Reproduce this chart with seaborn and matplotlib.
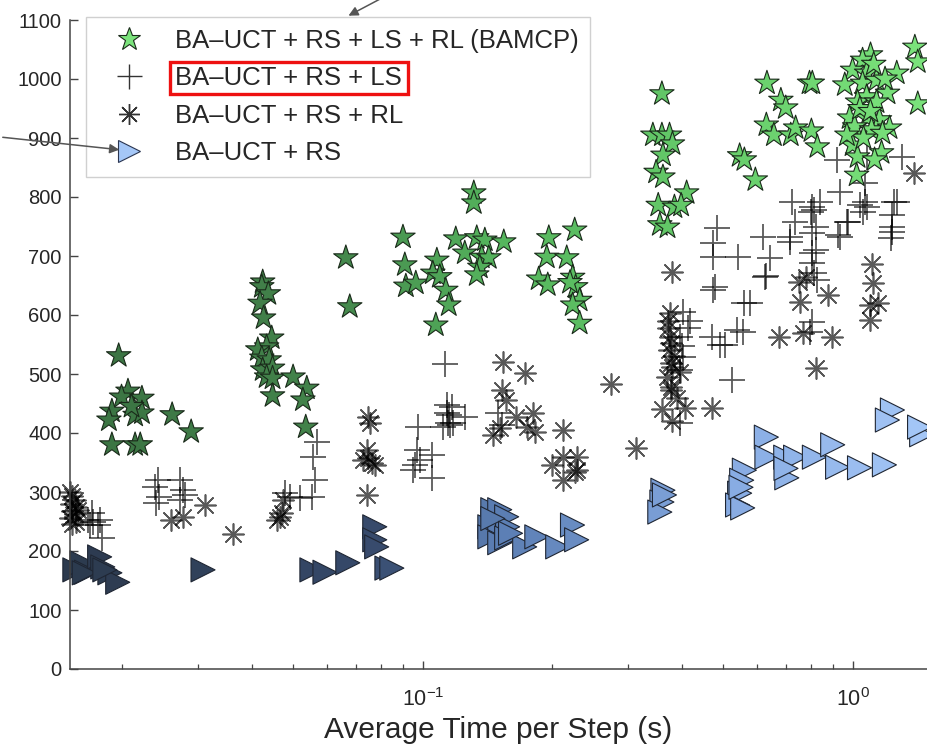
import matplotlib
matplotlib.use("Agg")
import matplotlib.pyplot as plt
import numpy as np
import pandas as pd
import seaborn as sns
from matplotlib.colors import LinearSegmentedColormap
from matplotlib.lines import Line2D
from matplotlib.patches import Rectangle

# BA-UCT + RS + LS + RL (BAMCP)
bamcp_time = [0.0196, 0.0206, 0.0199, 0.0222, 0.0189, 0.0186, 0.0214, 0.0222, 0.0210, 0.0261, 0.0289,
              0.0189, 0.0214, 0.0220,
              0.0424, 0.0422, 0.0437, 0.0418, 0.0426, 0.0445, 0.0433, 0.0413, 0.0422, 0.0439, 0.0424,
              0.0447, 0.0433, 0.0447, 0.0447, 0.0499, 0.0537, 0.0526, 0.0534, 0.0662, 0.0676,
              0.0899, 0.0908, 0.0913, 0.0963, 0.1314, 0.1314, 0.1193, 0.1078, 0.1055, 0.1095, 0.1131,
              0.1149, 0.1072, 0.1252, 0.1335, 0.1394, 0.1543, 0.1371, 0.1424, 0.1357, 0.1335,
              0.1964, 0.1943, 0.1860, 0.1953, 0.2162, 0.2256, 0.2232, 0.2268, 0.2317, 0.2232, 0.2317, 0.2200,
              0.360, 0.343, 0.360, 0.375, 0.381, 0.362, 0.349, 0.362, 0.411, 0.353, 0.385, 0.399, 0.356, 0.371,
              0.546, 0.560, 0.594, 0.632, 0.794, 0.681, 0.699, 0.630, 0.656, 0.718, 0.737, 0.802, 0.828, 0.806,
              1.396, 1.418, 1.267, 1.101, 1.055, 1.000, 0.959, 1.078, 1.055, 1.137, 1.206, 1.078, 1.027,
              1.137, 1.418, 0.984, 1.083, 1.155, 1.011, 1.219, 1.107, 1.174, 1.000, 1.168, 1.027, 1.125,
              1.022, 1.040, 1.100, 1.060, 0.970, 1.190, 1.120]
bamcp_value = [531, 471, 461, 459, 437, 422, 430, 434, 445, 431, 402,
               380, 380, 380,
               656, 648, 636, 620, 595, 561, 546, 541, 527, 524, 507,
               510, 495, 493, 463, 495, 476, 456, 410, 697, 614,
               732, 685, 649, 654, 807, 790, 729, 693, 671, 665, 642,
               617, 583, 705, 731, 727, 724, 698, 697, 681, 668,
               731, 698, 661, 651, 697, 744, 664, 648, 625, 617, 586, 655,
               975, 905, 905, 905, 890, 871, 842, 834, 807, 786, 783, 786, 753, 749,
               870, 863, 829, 993, 993, 964, 951, 922, 905, 905, 917, 912, 885, 993,
               1054, 1029, 1010, 1041, 1032, 1015, 990, 1010, 993, 998, 976, 970, 961,
               961, 958, 934, 934, 931, 919, 917, 914, 908, 888, 875, 868, 863,
               837, 950, 945, 900, 905, 1000, 1025]

# BA-UCT + RS + LS
ls_time = [0.0170, 0.0168, 0.0177, 0.0179, 0.0166, 0.0175, 0.0171,
           0.0242, 0.0243, 0.0240, 0.0238, 0.0272, 0.0277, 0.0280, 0.0272,
           0.0478, 0.0491, 0.0518, 0.0552, 0.0561, 0.0555, 0.0566,
           0.0973, 0.0968, 0.0958, 0.0948, 0.0984, 0.1049, 0.1049, 0.1137, 0.1137, 0.1167, 0.1143,
           0.1173, 0.1252, 0.1113, 0.1125, 0.1155, 0.1149, 0.1494, 0.1527,
           0.403, 0.415, 0.396, 0.403, 0.396, 0.396, 0.418, 0.400,
           0.473, 0.540, 0.473, 0.560, 0.470, 0.491, 0.504, 0.538, 0.555, 0.523,
           0.483, 0.473, 0.618, 0.641, 0.624, 0.714, 0.722, 0.734, 0.802, 0.806, 0.838, 0.933,
           0.919, 1.066, 1.066, 1.078, 1.083, 1.302, 1.267, 1.232, 1.238, 1.232, 1.226, 0.806,
           0.824, 0.806, 0.815, 0.828, 0.824, 0.972, 0.923, 0.714, 0.630, 0.576, 0.478, 1.251,
           1.038, 1.055, 0.815, 0.977, 0.933, 0.794, 0.806, 0.806]
ls_value = [264, 244, 253, 222, 253, 244, 249,
            320, 292, 281, 309, 320, 303, 295, 286,
            298, 292, 290, 292, 320, 359, 385,
            410, 371, 346, 337, 354, 363, 324, 448, 434, 444, 417,
            417, 427, 410, 517, 413, 430, 434, 413,
            605, 578, 563, 529, 507, 417, 590, 548,
            698, 698, 642, 620, 563, 549, 549, 575, 571, 490,
            748, 722, 732, 697, 664, 724, 792, 758, 775, 783, 792, 809,
            863, 824, 792, 783, 868, 868, 792, 770, 750, 740, 730, 739,
            710, 688, 671, 659, 749, 758, 736, 732, 666, 620, 647, 792,
            786, 775, 778, 758, 732, 571, 588, 705]

# BA-UCT + RS + RL
rl_time = [0.0151, 0.0153, 0.0155, 0.0152, 0.0156, 0.0153, 0.0155, 0.0151, 0.0156, 0.0153, 0.0158,
           0.0259, 0.0277, 0.0311, 0.0361,
           0.0458, 0.0471, 0.0473, 0.0465,
           0.0745, 0.0753, 0.0741, 0.0745, 0.0761, 0.0773, 0.0725, 0.0741,
           0.1535, 0.1726, 0.1527, 0.1559, 0.1650, 0.1800, 0.1820, 0.1510, 0.1455, 0.2115, 0.1744,
           0.200, 0.2115, 0.228, 0.228, 0.2115, 0.2256,
           0.274, 0.313,
           0.381, 0.375, 0.371, 0.375, 0.379, 0.373, 0.379, 0.381, 0.396, 0.379, 0.379, 0.360,
           0.408, 0.381, 0.470, 0.372, 0.385, 0.370, 0.390,
           0.749, 0.781, 0.753, 0.875, 1.107, 1.113, 1.095, 1.143, 1.095, 1.389, 0.765, 0.676,
           0.894, 0.824]
rl_value = [300, 293, 287, 280, 275, 268, 262, 256, 250, 245, 270,
            253, 258, 278, 229,
            253, 264, 286, 258,
            427, 417, 371, 358, 349, 346, 354, 295,
            520, 502, 473, 456, 427, 434, 402, 408, 397, 405, 410,
            346, 359, 359, 337, 320, 334,
            483, 375,
            673, 603, 578, 563, 553, 541, 519, 512, 503, 478, 473, 441,
            442, 420, 442, 590, 530, 495, 460,
            656, 664, 622, 634, 686, 654, 617, 620, 592, 841, 570, 563,
            563, 510]

# BA-UCT + RS
rs_time = [0.0155, 0.0161, 0.0165, 0.0177, 0.0180, 0.0187, 0.0195, 0.0163, 0.0182, 0.0308,
           0.0552, 0.0592, 0.0669, 0.0825, 0.0847, 0.0773, 0.0773, 0.0781,
           0.1455, 0.151, 0.1567, 0.1432, 0.151, 0.1575, 0.1432, 0.151, 0.1567, 0.1726, 0.1842,
           0.206, 0.223, 0.228, 0.1455, 0.160,
           0.362, 0.360, 0.356, 0.365,
           0.560, 0.552, 0.546, 0.540, 0.555, 0.550,
           0.630, 0.632, 0.699, 0.703, 0.737, 0.815, 0.899, 0.923, 1.038, 1.186, 1.238, 1.205,
           1.448, 1.432, 0.700]
rs_value = [168, 180, 164, 190, 173, 163, 147, 163, 168, 168,
            168, 164, 180, 171, 171, 241, 219, 207,
            270, 270, 258, 241, 241, 241, 224, 214, 222, 207, 224,
            207, 244, 219, 255, 230,
            303, 283, 266, 295,
            337, 320, 298, 278, 273, 308,
            393, 359, 359, 324, 359, 359, 380, 342, 341, 346, 439, 422,
            397, 410, 340]

labels = ["BA–UCT + RS + LS + RL (BAMCP)", "BA–UCT + RS + LS", "BA–UCT + RS + RL", "BA–UCT + RS"]

sns.set_style("ticks")
plt.rcParams["font.family"] = ["Liberation Sans", "DejaVu Sans"]
plt.rcParams["mathtext.fontset"] = "custom"
plt.rcParams["mathtext.rm"] = "Liberation Sans"
plt.rcParams["mathtext.it"] = "Liberation Sans:italic"

bamcp = pd.DataFrame({"t": bamcp_time, "v": bamcp_value})
ls = pd.DataFrame({"t": ls_time, "v": ls_value})
rl = pd.DataFrame({"t": rl_time, "v": rl_value})
rs = pd.DataFrame({"t": rs_time, "v": rs_value})
bamcp["logt"] = np.log10(bamcp["t"])
rs["logt"] = np.log10(rs["t"])

star_cmap = LinearSegmentedColormap.from_list(
    "stars", [(0, "#3a7242"), (0.3, "#43844b"), (0.5, "#55b55d"), (0.75, "#66cc6a"), (1, "#7be37c")])
tri_cmap = LinearSegmentedColormap.from_list(
    "tri", [(0, "#2c3a4e"), (0.35, "#36496a"), (0.5, "#5a7db2"), (0.75, "#84a8e0"), (1, "#a5c7f7")])
norm = (-1.82, 0.18)

fig = plt.figure(figsize=(9.27, 7.46), dpi=100)
ax = fig.add_axes([70 / 927, 1 - 669 / 746, 857 / 927, 649 / 746])

sns.scatterplot(data=ls, x="t", y="v", marker="+", color="black", alpha=0.65,
                s=330, linewidth=1.3, clip_on=False, legend=False, ax=ax)
sns.scatterplot(data=rl, x="t", y="v", marker=(8, 2, 0), color="black", alpha=0.65,
                s=230, linewidth=1.2, clip_on=False, legend=False, ax=ax)
sns.scatterplot(data=rs, x="t", y="v", hue="logt", palette=tri_cmap, hue_norm=norm,
                marker=">", s=300, edgecolor="#1f2633", linewidth=0.8, clip_on=False,
                legend=False, ax=ax)
sns.scatterplot(data=bamcp, x="t", y="v", hue="logt", palette=star_cmap, hue_norm=norm,
                marker="*", s=340, edgecolor="#1a2a1a", linewidth=0.8, clip_on=False,
                legend=False, ax=ax)

ax.set_xscale("log")
ax.set_xlim(0.0151, 1.49)
ax.set_ylim(0, 1100)
ax.set_yticks(np.arange(0, 1101, 100))
ax.set_xticks([0.1, 1])
ax.set_xlabel("Average Time per Step (s)", fontsize=21.5, labelpad=3)
ax.set_ylabel("")
ax.tick_params(axis="both", which="major", direction="in", length=6, width=1,
               labelsize=14.5, color="#444444", pad=6)
ax.tick_params(axis="x", which="major", labelsize=15.5, pad=14)
ax.tick_params(axis="x", which="minor", direction="in", length=3.5, width=0.9, color="#444444")
sns.despine(ax=ax)
for side in ["left", "bottom"]:
    ax.spines[side].set_color("#444444")
    ax.spines[side].set_linewidth(1.1)

handles = [
    Line2D([], [], ls="", marker="*", ms=17, mfc="#7be37c", mec="#1a2a1a", mew=0.8),
    Line2D([], [], ls="", marker="+", ms=18, color="#333333", mew=1.0),
    Line2D([], [], ls="", marker=(8, 2, 0), ms=15, color="#333333", mew=1.0),
    Line2D([], [], ls="", marker=">", ms=16, mfc="#a5c7f7", mec="#2a3550", mew=0.8),
]
leg = ax.legend(handles, labels, loc="upper left", bbox_to_anchor=(86 / 927, 1 - 17 / 746),
                bbox_transform=fig.transFigure, borderaxespad=0, fontsize=18.5,
                frameon=True, fancybox=False, edgecolor="#d0d0d0", framealpha=1,
                handlelength=2.46, handletextpad=0.56, labelspacing=0.53, borderpad=0.45)
leg.get_frame().set_linewidth(1.0)

# red box round the second legend entry
fig.canvas.draw()
bb = leg.get_texts()[1].get_window_extent()
inv = fig.transFigure.inverted()
(x0, y0), (x1, y1) = inv.transform([(bb.x0 - 5, bb.y0 - 4), (bb.x1 + 6, bb.y1 + 4)])
fig.add_artist(Rectangle((x0, y0), x1 - x0, y1 - y0, transform=fig.transFigure,
                         fill=False, ec="#ee1111", lw=2.4))

# pointer arrows from the surrounding document
arrow = dict(arrowstyle="-|>", color="#555555", lw=1.1, mutation_scale=14)
ax.annotate("", xy=(346 / 927, 1 - 17 / 746), xycoords="figure fraction",
            xytext=(382 / 927, 1 + 2 / 746), textcoords="figure fraction",
            arrowprops=arrow, annotation_clip=False, zorder=10)
ax.annotate("", xy=(122 / 927, 1 - 150 / 746), xycoords="figure fraction",
            xytext=(0, 1 - 137 / 746), textcoords="figure fraction",
            arrowprops=arrow, annotation_clip=False, zorder=10)

fig.savefig("out.png", dpi=100)
